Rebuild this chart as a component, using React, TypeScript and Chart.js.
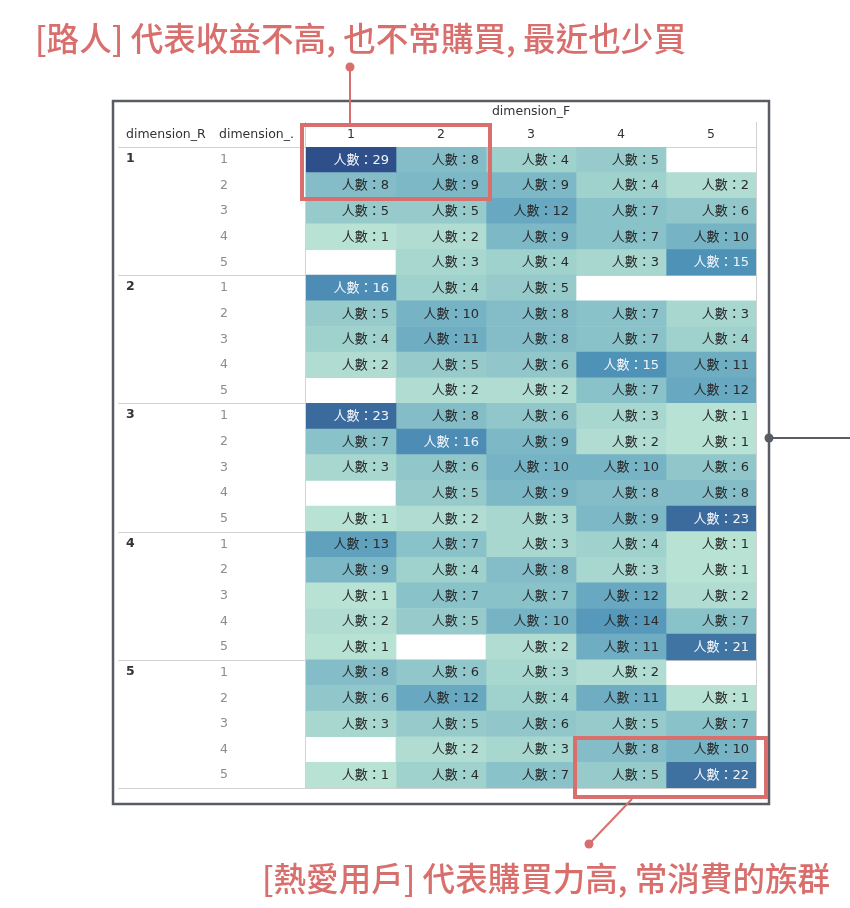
import React, { useEffect, useRef } from "react";
import { Chart, registerables } from "chart.js";

Chart.register(...registerables);

// ---- data ----
const fLabels = ["1", "2", "3", "4", "5"];
const rLabels = ["1", "2", "3", "4", "5"];
const mLabels = ["1", "2", "3", "4", "5"];
// rows = dimension_M (1..5), columns = dimension_F (1..5); null = no customers
const countsR1 = [
  [29, 8, 4, 5, null],
  [8, 9, 9, 4, 2],
  [5, 5, 12, 7, 6],
  [1, 2, 9, 7, 10],
  [null, 3, 4, 3, 15],
];
const countsR2 = [
  [16, 4, 5, null, null],
  [5, 10, 8, 7, 3],
  [4, 11, 8, 7, 4],
  [2, 5, 6, 15, 11],
  [null, 2, 2, 7, 12],
];
const countsR3 = [
  [23, 8, 6, 3, 1],
  [7, 16, 9, 2, 1],
  [3, 6, 10, 10, 6],
  [null, 5, 9, 8, 8],
  [1, 2, 3, 9, 23],
];
const countsR4 = [
  [13, 7, 3, 4, 1],
  [9, 4, 8, 3, 1],
  [1, 7, 7, 12, 2],
  [2, 5, 10, 14, 7],
  [1, null, 2, 11, 21],
];
const countsR5 = [
  [8, 6, 3, 2, null],
  [6, 12, 4, 11, 1],
  [3, 5, 6, 5, 7],
  [null, 2, 3, 8, 10],
  [1, 4, 7, 5, 22],
];
const noteTop = "[路人] 代表收益不高, 也不常購買, 最近也少買";
const noteBottom = "[熱愛用戶] 代表購買力高, 常消費的族群";
const cellPrefix = "人數：";

// ---- styling helpers ----
const colorStops: [number, number[]][] = [
  [1, [184, 226, 212]],
  [5, [151, 203, 203]],
  [9, [125, 184, 198]],
  [12, [104, 168, 192]],
  [15, [79, 146, 184]],
  [23, [59, 107, 156]],
  [29, [46, 79, 138]],
];
function colorFor(v: number | null): string {
  if (v == null) return "rgba(0,0,0,0)";
  if (v <= colorStops[0][0]) return `rgb(${colorStops[0][1].join(",")})`;
  for (let i = 1; i < colorStops.length; i++) {
    const [v1, c1] = colorStops[i];
    const [v0, c0] = colorStops[i - 1];
    if (v <= v1) {
      const t = (v - v0) / (v1 - v0);
      const c = c0.map((a, k) => Math.round(a + (c1[k] - a) * t));
      return `rgb(${c.join(",")})`;
    }
  }
  return `rgb(${colorStops[colorStops.length - 1][1].join(",")})`;
}

const RED = "#d96f6d";
const FRAME = "#5a5c64";
const LATIN = '"DejaVu Sans", "Noto Sans CJK TC", sans-serif';
const CJK = '"Noto Sans CJK TC", "Noto Sans CJK SC", sans-serif';

const allRows = [countsR1, countsR2, countsR3, countsR4, countsR5].flat();
const rowKeys = rLabels.flatMap((r) => mLabels.map((m) => `${r}-${m}`));

// draw text condensed horizontally to a target width at a given font size
function drawFitted(ctx: CanvasRenderingContext2D, text: string, x: number, y: number, width: number, size: number, weight: string) {
  ctx.font = `${weight} ${size}px ${CJK}`;
  const w = ctx.measureText(text).width;
  ctx.save();
  ctx.translate(x, y);
  ctx.scale(width / w, 1);
  ctx.fillText(text, 0, 0);
  ctx.restore();
}

const tablePlugin = {
  id: "tablePlugin",
  beforeDatasetsDraw(chart: any) {
    const ctx: CanvasRenderingContext2D = chart.ctx;
    const xs = chart.scales.x;
    const ys = chart.scales.y;
    const area = chart.chartArea;
    const rowH = (area.bottom - area.top) / rowKeys.length;
    ctx.save();
    ctx.fillStyle = "#ffffff";
    ctx.fillRect(0, 0, chart.width, chart.height);

    // frame
    ctx.strokeStyle = FRAME;
    ctx.lineWidth = 2.5;
    ctx.strokeRect(113, 101, 656, 703);

    // light grid lines
    ctx.strokeStyle = "#d2d2d2";
    ctx.lineWidth = 1;
    const left = 118;
    ctx.beginPath();
    ctx.moveTo(left, area.top + 0.5);
    ctx.lineTo(area.right, area.top + 0.5);
    for (let g = 1; g <= rLabels.length; g++) {
      const y = Math.round(area.top + g * 5 * rowH) + 0.5;
      ctx.moveTo(left, y);
      ctx.lineTo(area.right, y);
    }
    ctx.moveTo(area.left - 0.5, area.top - 25);
    ctx.lineTo(area.left - 0.5, area.bottom);
    ctx.moveTo(area.right + 0.5, area.top - 25);
    ctx.lineTo(area.right + 0.5, area.bottom);
    ctx.stroke();

    // headers
    ctx.fillStyle = "#333333";
    ctx.font = `12.5px ${LATIN}`;
    ctx.textBaseline = "middle";
    ctx.textAlign = "left";
    ctx.fillText("dimension_R", 126, 135);
    ctx.fillText("dimension_.", 219, 135);
    ctx.textAlign = "center";
    ctx.fillText("dimension_F", (area.left + area.right) / 2, 112);
    fLabels.forEach((f, i) => {
      ctx.fillText(f, xs.getPixelForValue(i + 1), 135);
    });

    // row labels
    rowKeys.forEach((key, idx) => {
      const [r, m] = key.split("-");
      const y = ys.getPixelForValue(idx);
      if (m === mLabels[0]) {
        ctx.fillStyle = "#333333";
        ctx.font = `bold 12.5px ${LATIN}`;
        ctx.textAlign = "left";
        ctx.fillText(r, 126, y - 1);
      }
      ctx.fillStyle = "#8c8c8c";
      ctx.font = `12.5px ${LATIN}`;
      ctx.textAlign = "center";
      ctx.fillText(m, 224, y);
    });
    ctx.restore();
  },
  afterDatasetsDraw(chart: any) {
    const ctx: CanvasRenderingContext2D = chart.ctx;
    ctx.save();
    // cell labels
    ctx.textBaseline = "middle";
    ctx.textAlign = "right";
    ctx.font = `13px ${LATIN}`;
    chart.data.datasets.forEach((ds: any, di: number) => {
      const meta = chart.getDatasetMeta(di);
      meta.data.forEach((el: any, j: number) => {
        const v = ds.counts[j];
        if (v == null) return;
        ctx.fillStyle = v >= 15 ? "#f2f5f8" : "#2a2a2a";
        ctx.fillText(cellPrefix + v, el.x - 7, el.y + 0.5);
      });
    });

    // annotations
    ctx.strokeStyle = RED;
    ctx.fillStyle = RED;
    ctx.lineWidth = 4;
    ctx.strokeRect(302, 125, 188, 74);
    ctx.strokeRect(575, 738, 191, 59);
    ctx.lineWidth = 2;
    ctx.beginPath();
    ctx.moveTo(350, 67);
    ctx.lineTo(350, 124);
    ctx.moveTo(632, 799);
    ctx.lineTo(589, 844);
    ctx.stroke();
    ctx.beginPath();
    ctx.arc(350, 67, 4.5, 0, Math.PI * 2);
    ctx.fill();
    ctx.beginPath();
    ctx.arc(589, 844, 4.5, 0, Math.PI * 2);
    ctx.fill();

    ctx.textAlign = "left";
    ctx.textBaseline = "middle";
    drawFitted(ctx, noteTop, 35, 38, 651, 33, "500");
    drawFitted(ctx, noteBottom, 262, 878, 568, 33, "500");

    // right connector
    ctx.strokeStyle = FRAME;
    ctx.fillStyle = FRAME;
    ctx.lineWidth = 2;
    ctx.beginPath();
    ctx.moveTo(769, 438);
    ctx.lineTo(850, 438);
    ctx.stroke();
    ctx.beginPath();
    ctx.arc(769, 438, 4.5, 0, Math.PI * 2);
    ctx.fill();
    ctx.restore();
  },
};

export default function App() {
  const ref = useRef<HTMLCanvasElement | null>(null);
  useEffect(() => {
    if (!ref.current) return;
    const datasets = fLabels.map((f, fi) => ({
      label: f,
      data: allRows.map((row) => (row[fi] == null ? null : [fi + 0.5, fi + 1.5])),
      counts: allRows.map((row) => row[fi]),
      backgroundColor: allRows.map((row) => colorFor(row[fi])),
      borderWidth: 0,
      barPercentage: 1,
      categoryPercentage: 1,
      grouped: false,
    }));
    const chart = new Chart(ref.current, {
      type: "bar",
      data: { labels: rowKeys, datasets: datasets as any },
      options: {
        indexAxis: "y",
        animation: false,
        responsive: false,
        devicePixelRatio: 1,
        layout: { padding: { left: 306, right: 94, top: 147, bottom: 120 } },
        scales: {
          x: { type: "linear", min: 0.5, max: 5.5, display: false },
          y: { type: "category", display: false, offset: true },
        },
        plugins: { legend: { display: false }, tooltip: { enabled: false }, title: { display: false } },
      },
      plugins: [tablePlugin],
    });
    return () => chart.destroy();
  }, []);
  return (
    <div style={{ position: "absolute", left: 0, top: 0, width: 850, height: 908, background: "#fff" }}>
      <canvas ref={ref} width={850} height={908} style={{ width: 850, height: 908, display: "block" }} />
    </div>
  );
}
